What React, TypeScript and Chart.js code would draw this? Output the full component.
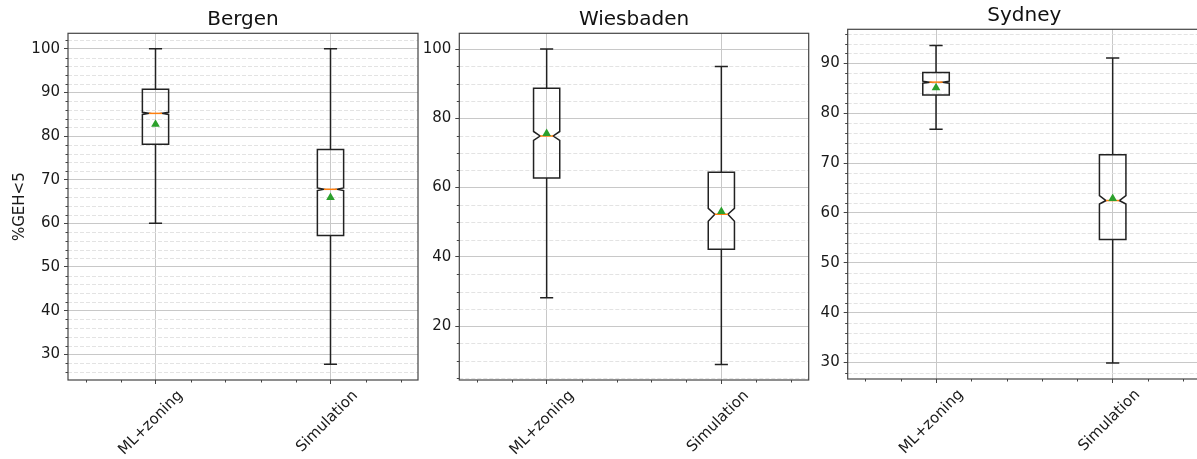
import React, { useEffect, useRef } from 'react';
import { Chart, registerables } from 'chart.js';

Chart.register(...registerables);

const categories = ['ML+zoning', 'Simulation'];
const positions = [1, 2];

// each box: [whiskerLow, q1, median, q3, whiskerHigh]
const bergenBoxes = [
  [60.0, 78.1, 85.2, 90.7, 100.0],
  [27.7, 57.2, 67.8, 76.9, 100.0],
];
const bergenMeans = [82.7, 65.9];
const bergenNotches = [
  [84.95, 85.45],
  [67.5, 68.1],
];
const bergenYTicks = [30, 40, 50, 60, 70, 80, 90, 100];

const wiesbadenBoxes = [
  [28.2, 62.8, 74.9, 88.7, 100.0],
  [8.9, 42.2, 52.3, 64.4, 95.0],
];
const wiesbadenMeans = [75.6, 53.1];
const wiesbadenNotches = [
  [73.6, 76.2],
  [50.3, 54.0],
];
const wiesbadenYTicks = [20, 40, 60, 80, 100];

const sydneyBoxes = [
  [76.8, 83.65, 86.25, 88.2, 93.6],
  [29.9, 54.7, 62.5, 71.7, 91.1],
];
const sydneyMeans = [85.1, 62.9];
const sydneyNotches = [
  [86.05, 86.45],
  [61.8, 63.5],
];
const sydneyYTicks = [30, 40, 50, 60, 70, 80, 90];

const xMinorTicks = [0.6, 0.8, 1.2, 1.4, 1.6, 1.8, 2.2, 2.4];

type Panel = {
  title: string;
  boxes: number[][];
  means: number[];
  notches: number[][];
  yTicks: number[];
  yMin: number;
  yMax: number;
  minorStep: number;
  yLabel?: string;
  left: number;
  width: number;
  axisWidth: number;
  padRight: number;
  titlePadTop: number;
  titlePadBottom: number;
  xAxisHeight: number;
};

const panels: Panel[] = [
  {
    title: 'Bergen', boxes: bergenBoxes, means: bergenMeans, notches: bergenNotches,
    yTicks: bergenYTicks, yMin: 24.1, yMax: 103.55, minorStep: 2, yLabel: '%GEH<5',
    left: 0, width: 436, axisWidth: 68, padRight: 18, titlePadTop: 7.5, titlePadBottom: 1.8, xAxisHeight: 79,
  },
  {
    title: 'Wiesbaden', boxes: wiesbadenBoxes, means: wiesbadenMeans, notches: wiesbadenNotches,
    yTicks: wiesbadenYTicks, yMin: 4.45, yMax: 104.55, minorStep: 5,
    left: 420, width: 400, axisWidth: 39.3, padRight: 11.3, titlePadTop: 7.5, titlePadBottom: 1.8, xAxisHeight: 79,
  },
  {
    title: 'Sydney', boxes: sydneyBoxes, means: sydneyMeans, notches: sydneyNotches,
    yTicks: sydneyYTicks, yMin: 26.7, yMax: 96.85, minorStep: 2,
    left: 812, width: 397, axisWidth: 35.7, padRight: 8, titlePadTop: 3.8, titlePadBottom: 1.5, xAxisHeight: 80,
  },
];

const FONT = "'DejaVu Sans', sans-serif";
const TEXT = '#1a1a1a';
const BOX_HALF = 0.075;
const CAP_HALF = 0.0375;
const NOTCH_HALF = 0.0375;

function makeBoxPlugin(p: Panel) {
  return {
    id: 'boxes_' + p.title,
    beforeDatasetsDraw(chart: any) {
      const { ctx, chartArea } = chart;
      const xs = chart.scales.x;
      const ys = chart.scales.y;
      ctx.save();
      // minor dashed gridlines
      ctx.strokeStyle = '#e0e0e0';
      ctx.lineWidth = 0.9;
      ctx.setLineDash([4, 2]);
      const start = Math.ceil(p.yMin / p.minorStep) * p.minorStep;
      for (let v = start; v <= p.yMax; v += p.minorStep) {
        if (p.yTicks.includes(v)) continue;
        const y = Math.round(ys.getPixelForValue(v)) + 0.5;
        ctx.beginPath();
        ctx.moveTo(chartArea.left, y);
        ctx.lineTo(chartArea.right, y);
        ctx.stroke();
      }
      ctx.setLineDash([]);
      // minor tick marks
      ctx.strokeStyle = '#444';
      ctx.lineWidth = 1;
      for (let v = start; v <= p.yMax; v += p.minorStep) {
        if (p.yTicks.includes(v)) continue;
        const y = Math.round(ys.getPixelForValue(v)) + 0.5;
        ctx.beginPath();
        ctx.moveTo(chartArea.left - 2.5, y);
        ctx.lineTo(chartArea.left, y);
        ctx.stroke();
      }
      xMinorTicks.forEach((v) => {
        const x = Math.round(xs.getPixelForValue(v)) + 0.5;
        ctx.beginPath();
        ctx.moveTo(x, chartArea.bottom);
        ctx.lineTo(x, chartArea.bottom + 2.5);
        ctx.stroke();
      });

      // boxes
      ctx.lineWidth = 1.5;
      p.boxes.forEach((b, i) => {
        const pos = positions[i];
        const [lo, q1, med, q3, hi] = b;
        const [cilo, cihi] = p.notches[i];
        const cx = xs.getPixelForValue(pos);
        const bl = xs.getPixelForValue(pos - BOX_HALF);
        const br = xs.getPixelForValue(pos + BOX_HALF);
        const nl = xs.getPixelForValue(pos - NOTCH_HALF);
        const nr = xs.getPixelForValue(pos + NOTCH_HALF);
        const cl = xs.getPixelForValue(pos - CAP_HALF);
        const cr = xs.getPixelForValue(pos + CAP_HALF);
        const Y = (v: number) => ys.getPixelForValue(v);
        ctx.strokeStyle = '#222';
        // whiskers
        ctx.beginPath();
        ctx.moveTo(cx, Y(q1));
        ctx.lineTo(cx, Y(lo));
        ctx.moveTo(cx, Y(q3));
        ctx.lineTo(cx, Y(hi));
        ctx.stroke();
        // caps
        ctx.beginPath();
        ctx.moveTo(cl, Y(lo));
        ctx.lineTo(cr, Y(lo));
        ctx.moveTo(cl, Y(hi));
        ctx.lineTo(cr, Y(hi));
        ctx.stroke();
        // notched box
        ctx.beginPath();
        ctx.moveTo(bl, Y(q1));
        ctx.lineTo(br, Y(q1));
        ctx.lineTo(br, Y(cilo));
        ctx.lineTo(nr, Y(med));
        ctx.lineTo(br, Y(cihi));
        ctx.lineTo(br, Y(q3));
        ctx.lineTo(bl, Y(q3));
        ctx.lineTo(bl, Y(cihi));
        ctx.lineTo(nl, Y(med));
        ctx.lineTo(bl, Y(cilo));
        ctx.closePath();
        ctx.stroke();
        // median
        ctx.strokeStyle = '#ff7f0e';
        ctx.beginPath();
        ctx.moveTo(nl, Y(med));
        ctx.lineTo(nr, Y(med));
        ctx.stroke();
      });
      ctx.restore();
    },
    afterDraw(chart: any) {
      const { ctx, chartArea } = chart;
      ctx.save();
      ctx.strokeStyle = '#444';
      ctx.lineWidth = 1.2;
      ctx.strokeRect(chartArea.left, chartArea.top, chartArea.right - chartArea.left, chartArea.bottom - chartArea.top);
      ctx.restore();
    },
  };
}

function PanelChart({ p }: { p: Panel }) {
  const ref = useRef<HTMLCanvasElement | null>(null);
  useEffect(() => {
    if (!ref.current) return;
    const chart = new Chart(ref.current, {
      type: 'scatter',
      data: {
        datasets: [
          {
            label: 'mean',
            data: p.means.map((m, i) => ({ x: positions[i], y: m })),
            pointStyle: 'triangle',
            radius: 5,
            hoverRadius: 5,
            backgroundColor: '#2ca02c',
            borderColor: '#2ca02c',
            borderWidth: 0,
          },
        ],
      },
      options: {
        responsive: false,
        animation: false,
        events: [],
        layout: { padding: { left: 0, right: p.padRight, top: 0, bottom: 0 } },
        plugins: {
          legend: { display: false },
          tooltip: { enabled: false },
          title: {
            display: true,
            text: p.title,
            fullSize: false,
            color: '#111',
            font: { family: FONT, size: 20, weight: 'normal' },
            padding: { top: p.titlePadTop, bottom: p.titlePadBottom },
          },
        },
        scales: {
          x: {
            type: 'linear',
            min: 0.5,
            max: 2.5,
            afterBuildTicks: (s: any) => {
              s.ticks = positions.map((v) => ({ value: v }));
            },
            afterFit: (s: any) => {
              s.height = p.xAxisHeight;
            },
            grid: { color: '#c8c8c8', lineWidth: 1, tickLength: 4, tickColor: '#444' },
            border: { display: false },
            ticks: {
              autoSkip: false,
              minRotation: 45,
              maxRotation: 45,
              labelOffset: 25,
              padding: 3,
              color: TEXT,
              font: { family: FONT, size: 15 },
              callback: (v: any) => categories[positions.indexOf(Number(v))] ?? '',
            },
          },
          y: {
            type: 'linear',
            min: p.yMin,
            max: p.yMax,
            afterBuildTicks: (s: any) => {
              s.ticks = p.yTicks.map((v) => ({ value: v }));
            },
            afterFit: (s: any) => {
              s.width = p.axisWidth;
            },
            grid: { color: '#c8c8c8', lineWidth: 1, tickLength: 4, tickColor: '#444' },
            border: { display: false },
            title: p.yLabel
              ? {
                  display: true,
                  text: p.yLabel,
                  color: TEXT,
                  font: { family: FONT, size: 15 },
                  padding: { top: 11, bottom: 0 },
                }
              : { display: false },
            ticks: {
              padding: 4,
              color: TEXT,
              font: { family: FONT, size: 15 },
            },
          },
        },
      },
      plugins: [makeBoxPlugin(p)],
    } as any);
    return () => chart.destroy();
  }, [p]);
  return (
    <canvas
      ref={ref}
      width={p.width}
      height={459}
      style={{ position: 'absolute', left: p.left, top: 0, width: p.width, height: 459 }}
    />
  );
}

export default function App() {
  return (
    <div
      style={{
        position: 'fixed',
        left: 0,
        top: 0,
        width: 1197,
        height: 459,
        overflow: 'hidden',
        background: '#ffffff',
      }}
    >
      {panels.map((p) => (
        <PanelChart key={p.title} p={p} />
      ))}
    </div>
  );
}
